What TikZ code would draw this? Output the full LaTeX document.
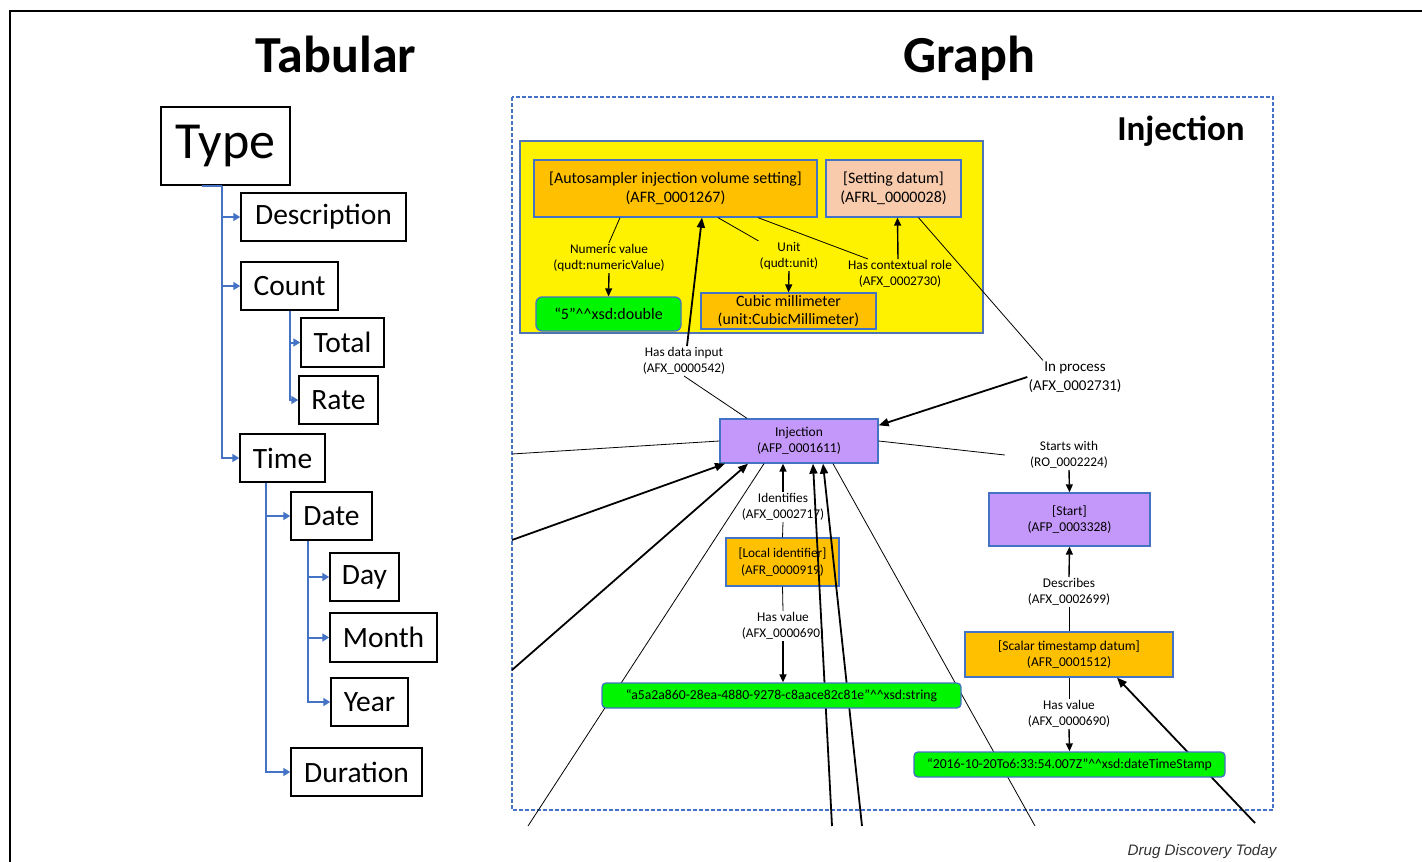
\documentclass[tikz,border=0pt]{standalone}
\usepackage{fontspec}
\setmainfont{Carlito}
\newfontfamily\arialfont{Liberation Sans}
\usetikzlibrary{arrows.meta}

\definecolor{boxblue}{RGB}{68,114,196}
\definecolor{amber}{RGB}{255,192,0}
\definecolor{peach}{RGB}{248,203,173}
\definecolor{litgreen}{RGB}{0,245,0}
\definecolor{procpurple}{RGB}{196,152,250}

\newcommand{\hathat}{\textasciicircum\textasciicircum}

\pgfdeclarelayer{front}
\pgfsetlayers{main,front}

\tikzset{
  tbox/.style={draw, line width=1.5pt, inner sep=0pt, font=\fontsize{29.5}{32}\selectfont},
  tarrow/.style={draw=boxblue, line width=2pt, -{Triangle[width=8pt,length=7pt]}},
  gbox/.style={draw=boxblue, line width=1.3pt, align=center, inner sep=0pt, font=\fontsize{13.5}{16.5}\selectfont},
  cls/.style={gbox, fill=amber},
  proc/.style={gbox, fill=procpurple},
  lit/.style={gbox, fill=litgreen, rounded corners=4pt},
  rel/.style={align=center, inner sep=1pt, font=\fontsize{13.3}{16.5}\selectfont},
  link/.style={line width=0.8pt},
  tip/.style={line width=1.4pt, -{Triangle[length=8pt,width=7pt]}},
  hop/.style={line width=1.8pt, -{Triangle[length=10pt,width=8pt]}}
}

\begin{document}
\begin{tikzpicture}[x=1pt,y=-1pt]
  \useasboundingbox (0,0) rectangle (1422,862);

  % Outer frame
  \draw[line width=1.5pt] (10,862) -- (10,11) -- (1422,11);

  % Titles
  \node[anchor=base, font=\fontsize{52}{60}\selectfont\bfseries] (tabtitle) at (336,72) {Tabular};
  \node[anchor=base, font=\fontsize{52}{60}\selectfont\bfseries] (graphtitle) at (969,72) {Graph};

  % Tabular side: the type tree
  \node[tbox, minimum width=129, minimum height=78, font=\fontsize{52}{60}\selectfont] (typ) at (225.5,146) {Type};
  \node[tbox, minimum width=165, minimum height=48] (desc) at (323.5,217) {Description};
  \node[tbox, minimum width=97, minimum height=48] (cnt) at (289.5,286) {Count};
  \node[tbox, minimum width=83, minimum height=49] (tot) at (342.5,342.5) {Total};
  \node[tbox, minimum width=79, minimum height=48] (rate) at (338.5,400) {Rate};
  \node[tbox, minimum width=85, minimum height=48] (tim) at (282.5,458) {Time};
  \node[tbox, minimum width=81, minimum height=48] (dat) at (331.5,516) {Date};
  \node[tbox, minimum width=69, minimum height=48] (day) at (364.5,577) {Day};
  \node[tbox, minimum width=107, minimum height=49] (mon) at (383.5,637.5) {Month};
  \node[tbox, minimum width=77, minimum height=48] (yr) at (369.5,702) {Year};
  \node[tbox, minimum width=131, minimum height=48] (dur) at (356.5,772) {Duration};

  % Tree links
  \draw[boxblue, line width=2pt] ([xshift=-23.5]typ.south) -- ([xshift=-3.5]typ.south);
  \draw[tarrow] ([xshift=-3.5]typ.south) |- (desc.west);
  \draw[tarrow] ([xshift=-3.5]typ.south) |- (cnt.west);
  \draw[tarrow] ([xshift=-3.5]typ.south) |- (tim.west);
  \draw[tarrow] (cnt.south) |- (tot.west);
  \draw[tarrow] (cnt.south) |- (rate.west);
  \draw[tarrow] ([xshift=-16.5]tim.south) |- (dat.west);
  \draw[tarrow] ([xshift=-16.5]tim.south) |- (dur.west);
  \draw[tarrow] ([xshift=-23.5]dat.south) |- (day.west);
  \draw[tarrow] ([xshift=-23.5]dat.south) |- (mon.west);
  \draw[tarrow] ([xshift=-23.5]dat.south) |- (yr.west);

  % Graph side: frame, title and the setting group
  \draw[boxblue, line width=1.2pt, dash pattern=on 4pt off 2pt] (512,97) rectangle (1273,810);
  \node[anchor=base, font=\fontsize{35}{40}\selectfont\bfseries] (injtitle) at (1181,140) {Injection};
  \draw[fill=yellow, draw=boxblue!80!gray, line width=1.2pt] (520,141) rectangle (983,333);

  \node[cls, minimum width=283, minimum height=57, font=\fontsize{16}{19}\selectfont] (auto) at (675.5,188.5)
    {[Autosampler injection volume setting]\\(AFR\_0001267)};
  \node[gbox, fill=peach, minimum width=135, minimum height=57, font=\fontsize{16}{19}\selectfont] (sett) at (893.5,188.5)
    {[Setting datum]\\(AFRL\_0000028)};
  \node[lit, minimum width=145, minimum height=34, rounded corners=6pt, font=\fontsize{16}{19}\selectfont] (five) at (608.5,314)
    {“5”\hathat xsd:double};
  \node[cls, minimum width=175, minimum height=36, font=\fontsize{15.8}{17.5}\selectfont] (cubic) at (788.5,311)
    {Cubic millimeter\\(unit:CubicMillimeter)};

  \node[rel] (numv) at (609,258) {Numeric value\\(qudt:numericValue)};
  \node[rel] (unitl) at (789,256) {Unit\\(qudt:unit)};
  \node[rel] (ctxl) at (900,274) {Has contextual role\\(AFX\_0002730)};

  % Process nodes
  \node[proc, minimum width=158, minimum height=44] (inj) at (799,441) {Injection\\(AFP\_0001611)};
  \node[proc, minimum width=161, minimum height=53] (start) at (1069.5,519.5) {[Start]\\(AFP\_0003328)};
  \node[cls, minimum width=208, minimum height=45] (scalar) at (1069,654.5) {[Scalar timestamp datum]\\(AFR\_0001512)};
  \node[cls, minimum width=113, minimum height=48, font=\fontsize{13.3}{16.5}\selectfont] (local) at (782.5,562) {[Local identifier]\\(AFR\_0000919)};

  \node[rel] (datain) at (684,361) {Has data input\\(AFX\_0000542)};
  \node[rel, font=\fontsize{15}{19}\selectfont] (inproc) at (1075,377) {In process\\(AFX\_0002731)};
  \node[rel] (startsw) at (1069,455) {Starts with\\(RO\_0002224)};
  \node[rel] (descr) at (1069,592) {Describes\\(AFX\_0002699)};
  \node[rel] (hasv2) at (1069,714) {Has value\\(AFX\_0000690)};
  \node[rel] (ident) at (783,507) {Identifies\\(AFX\_0002717)};
  \node[rel] (hasv1) at (783,626) {Has value\\(AFX\_0000690)};

  % Literal values sit above the crossing lines
  \begin{pgfonlayer}{front}
    \node[lit, minimum width=359, minimum height=25, font=\fontsize{13.7}{16}\selectfont] (strlit) at (781.5,695.5)
      {“a5a2a860-28ea-4880-9278-c8aace82c81e”\hathat xsd:string};
    \node[lit, minimum width=311, minimum height=25, font=\fontsize{13.7}{16}\selectfont] (datelit) at (1069.5,764.5)
      {“2016-10-20To6:33:54.007Z”\hathat xsd:dateTimeStamp};
  \end{pgfonlayer}

  % Loose ends leaving the frame
  \coordinate (outA) at (512,454);
  \coordinate (outB) at (512,540);
  \coordinate (outC) at (512,670);
  \coordinate (outD) at (528,826);
  \coordinate (outE) at (832,826);
  \coordinate (outF) at (862,826);
  \coordinate (outG) at (1035,826);
  \coordinate (outH) at (1255,823);

  % Setting group links
  \draw[link] ([xshift=-55.5]auto.south) -- (numv.north);
  \draw[tip] (numv.south) -- (five.north);
  \draw[link] ([xshift=42.5]auto.south) -- (unitl.north west);
  \draw[tip] (unitl.south) -- (cubic.north);
  \draw[link] ([xshift=82.5]auto.south) -- ([xshift=-32]ctxl.north);
  \draw[tip] ([xshift=-2]ctxl.north) -- ([xshift=4]sett.south);
  \draw[link] ([xshift=25]sett.south) -- ([xshift=-32]inproc.north);
  \draw[hop] ([xshift=3]datain.north) -- ([xshift=26.5]auto.south);

  % Injection links
  \draw[link] (datain.south) -- ([xshift=-52]inj.north);
  \draw[hop] (inproc.west) -- ([yshift=-7]inj.north east);
  \draw[link] (inj.west) -- (outA);
  \draw[link] (inj.east) -- ([xshift=-24]startsw.west);
  \draw[tip] (startsw.south) -- (start.north);
  \draw[tip] (descr.north) -- (start.south);
  \draw[link] (descr.south) -- (scalar.north);
  \draw[link] (scalar.south) -- (hasv2.north);
  \draw[tip] (hasv2.south) -- (datelit.north);
  \draw[hop] (outH) -- ([xshift=48]scalar.south);

  \draw[tip] (ident.north) -- (ident.north |- inj.south);
  \draw[link] (ident.south) -- (local.north);
  \draw[link] (local.south) -- (hasv1.north);
  \draw[tip] (hasv1.south) -- (hasv1.south |- strlit.north);

  \draw[hop] (outB) -- ([xshift=-74]inj.south);
  \draw[hop] (outC) -- ([xshift=-51]inj.south);
  \draw[link] ([xshift=-35]inj.south) -- (outD);
  \draw[hop] (outE) -- ([xshift=14]inj.south);
  \draw[hop] (outF) -- ([xshift=24]inj.south);
  \draw[link] ([xshift=34]inj.south) -- (outG);

  % Source line
  \node[font=\arialfont\itshape\fontsize{15.2}{17}\selectfont, text=black!80] (credit) at (1202,852) {Drug Discovery Today};

\end{tikzpicture}
\end{document}
